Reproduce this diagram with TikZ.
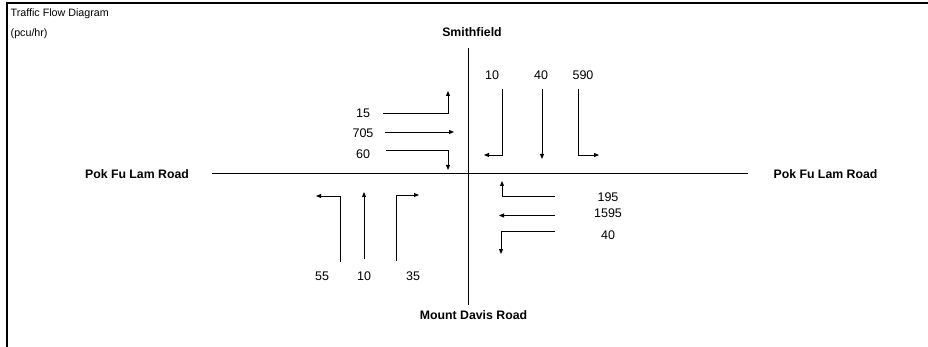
\documentclass[tikz,border=0pt]{standalone}
\usepackage{fontspec}
\setmainfont{Liberation Sans}
\usetikzlibrary{arrows.meta}
\begin{document}
\begin{tikzpicture}[x=1pt,y=-1pt,
  road/.style={line width=0.9pt},
  flow/.style={line width=0.9pt,-{Triangle[length=5pt,width=4pt]}},
  num/.style={font=\fontsize{12.5}{14}\selectfont,inner sep=0pt},
  rname/.style={font=\fontsize{12.3}{14}\selectfont\bfseries,inner sep=0pt},
  ttl/.style={font=\fontsize{10.7}{12}\selectfont,inner sep=0pt,anchor=west}]
\useasboundingbox (0,0) rectangle (928,347);
\fill[white] (0,0) rectangle (928,347);
% frame
\draw[line width=2.6pt] (7,347) -- (7,3.2) -- (928,3.2);
\node[ttl] (t1) at (10.5,14) {Traffic Flow Diagram};
\node[ttl] (t2) at (10.5,34) {(pcu/hr)};
% roads
\draw[road] (468,48) -- (468,305);
\draw[road] (212,173) -- (748,173);
\node[rname] (n) at (472,32.5) {Smithfield};
\node[rname] (s) at (473.5,315) {Mount Davis Road};
\node[rname] (w) at (137,174.5) {Pok Fu Lam Road};
\node[rname] (e) at (825.5,174.5) {Pok Fu Lam Road};
% west approach
\node[num] (w1) at (363,113) {15};
\node[num] (w2) at (363,133) {705};
\node[num] (w3) at (363,154) {60};
\draw[flow] (383,113) -- (448,113) -- (448,91);
\draw[flow] (385,132) -- (454,132);
\draw[flow] (386,150) -- (448,150) -- (448,170);
% north approach
\node[num] (n1) at (492,75) {10};
\node[num] (n2) at (541,75) {40};
\node[num] (n3) at (583,75) {590};
\draw[flow] (502,89) -- (502,155) -- (484,155);
\draw[flow] (542,89) -- (542,159);
\draw[flow] (578,89) -- (578,155) -- (599,155);
% south approach
\node[num] (s1) at (322,276) {55};
\node[num] (s2) at (364,276) {10};
\node[num] (s3) at (413,276) {35};
\draw[flow] (340,262) -- (340,196) -- (316,196);
\draw[flow] (364,259) -- (364,192);
\draw[flow] (396,261) -- (396,195) -- (419,195);
% east approach
\node[num] (e1) at (608,197) {195};
\node[num] (e2) at (608,213) {1595};
\node[num] (e3) at (608,235) {40};
\draw[flow] (555,196) -- (502,196) -- (502,181);
\draw[flow] (555,215.5) -- (499,215.5);
\draw[flow] (555,231) -- (501,231) -- (501,254);
\end{tikzpicture}
\end{document}
